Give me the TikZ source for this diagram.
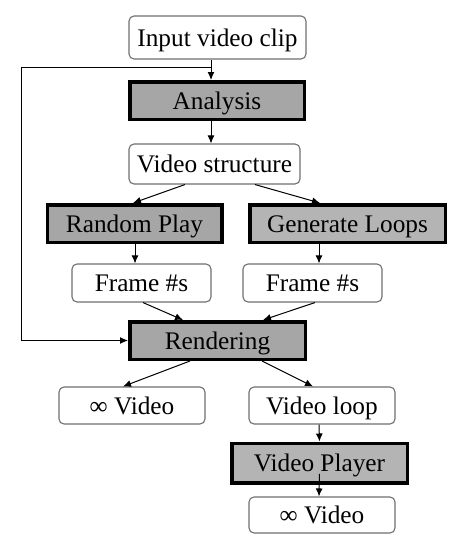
\documentclass[tikz,border=0pt]{standalone}
\usepackage{fontspec}
\setmainfont{Liberation Serif}
\usetikzlibrary{arrows.meta}
\definecolor{soft}{HTML}{707070}
\definecolor{grayA}{HTML}{A6A6A6}
\definecolor{grayB}{HTML}{B4B4B4}
\begin{document}
\begin{tikzpicture}[x=1pt,y=-1pt,
  every node/.style={inner sep=0pt,text height=21pt,text depth=4pt,font=\fontsize{25.3}{30}\selectfont},
  data/.style={draw=soft,line width=1.1pt,rounded corners=5pt,fill=white},
  proc/.style={draw=black,line width=3.5pt,fill=grayA},
  procl/.style={draw=black,line width=3.5pt,fill=grayB},
  arr/.style={draw=black,line width=1pt,-{Latex[length=8pt,width=7pt]}}]
\useasboundingbox (0,0) rectangle (469,555);
\fill[white] (0,0) rectangle (469,555);
\node[data,minimum width=177pt,minimum height=43pt] (in) at (217.5,37.5) {Input video clip};
\node[proc,minimum width=174.5pt,minimum height=37.5pt] (an) at (217,100.5) {Analysis};
\node[data,minimum width=171pt,minimum height=40pt] (vs) at (214.5,164) {Video structure};
\node[proc,minimum width=174.5pt,minimum height=37.5pt] (rp) at (134.5,223.5) {Random Play};
\node[procl,minimum width=195.5pt,minimum height=37.5pt] (gl) at (347.5,223.5) {Generate Loops};
\node[data,minimum width=139pt,minimum height=38pt] (f1) at (141.5,283) {Frame \#s};
\node[data,minimum width=139pt,minimum height=38pt] (f2) at (312.5,283) {Frame \#s};
\node[proc,minimum width=175.5pt,minimum height=37.5pt] (re) at (217.5,340.5) {Rendering};
\node[data,minimum width=146pt,minimum height=37pt] (v1) at (132,405.5) {∞ Video};
\node[data,minimum width=146pt,minimum height=37pt] (vl) at (322,405.5) {Video loop};
\node[procl,minimum width=175.5pt,minimum height=39.5pt] (vp) at (319.5,463) {Video Player};
\node[data,minimum width=146pt,minimum height=36pt] (v2) at (322,515) {∞ Video};
\coordinate (fb) at (211,67);
\coordinate (corner) at (21,67);
\draw[arr] ([xshift=-6.5pt]in.south) -- ([xshift=-6pt]an.north);
\draw[arr] (fb) -- (corner) |- (re.west);
\draw[arr] ([xshift=-6pt]an.south) -- ([xshift=-3.5pt]vs.north);
\draw[arr] ([xshift=-29.5pt]vs.south) -- ([xshift=-1.5pt]rp.north);
\draw[arr] ([xshift=40.5pt]vs.south) -- ([xshift=-27.5pt]gl.north);
\draw[arr] ([xshift=0.5pt]rp.south) -- ([xshift=-6.5pt]f1.north);
\draw[arr] ([xshift=-28.5pt]gl.south) -- ([xshift=6.5pt]f2.north);
\draw[arr] ([xshift=1.5pt]f1.south) -- ([xshift=-34.5pt]re.north);
\draw[arr] ([xshift=2.5pt]f2.south) -- ([xshift=45.5pt]re.north);
\draw[arr] ([xshift=-27.5pt]re.south) -- ([xshift=-9pt]v1.north);
\draw[arr] ([xshift=44.5pt]re.south) -- ([xshift=-9pt]vl.north);
\draw[arr] ([xshift=-3pt]vl.south) -- (vp.north);
\draw[arr] ([yshift=10.75pt]vp.south) -- ([xshift=-3pt]v2.north);
\end{tikzpicture}
\end{document}
